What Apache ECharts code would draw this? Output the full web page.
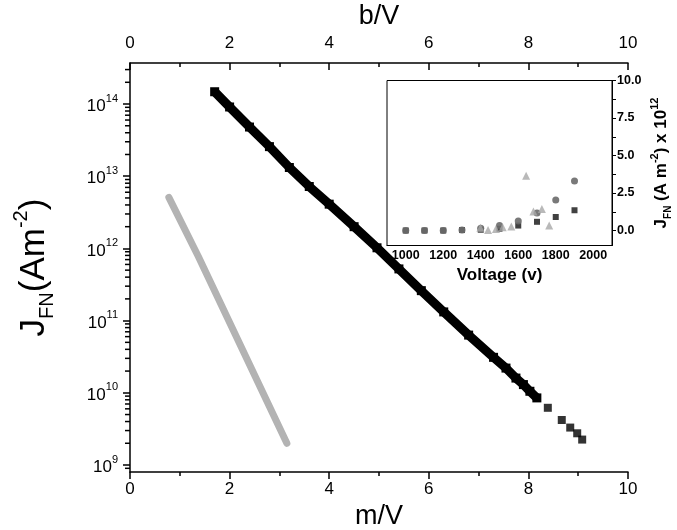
<!DOCTYPE html>
<html><head><meta charset="utf-8">
<script src="https://cdn.jsdelivr.net/npm/echarts@6/dist/echarts.min.js"></script>
<style>html,body{margin:0;padding:0;background:#fff}#c{width:677px;height:530px}</style>
</head><body><div id="c"></div>
<script>
// ---- main plot data ----
const blackBandM = [1.70, 2.00, 2.40, 2.80, 3.20, 3.60, 4.00, 4.50, 4.96, 5.40, 5.85, 6.30, 6.80, 7.30, 7.55, 7.75, 7.90, 8.03, 8.17];
const blackBandJ = [1.48e14, 9.1e13, 4.8e13, 2.57e13, 1.32e13, 7.2e12, 4.1e12, 2.0e12, 1.02e12, 5.2e11, 2.6e11, 1.32e11, 6.3e10, 3.1e10, 2.2e10, 1.6e10, 1.3e10, 1.05e10, 8.5e9];
const blackTailM = [8.39, 8.67, 8.84, 8.98, 9.08];
const blackTailJ = [6.2e9, 4.2e9, 3.3e9, 2.75e9, 2.25e9];
const grayM = [0.78, 1.37, 3.15];
const grayJ = [5.1e12, 7.8e11, 2.0e9];
const logMinorTicks = [9e8,
  2e9,3e9,4e9,5e9,6e9,7e9,8e9,9e9,
  2e10,3e10,4e10,5e10,6e10,7e10,8e10,9e10,
  2e11,3e11,4e11,5e11,6e11,7e11,8e11,9e11,
  2e12,3e12,4e12,5e12,6e12,7e12,8e12,9e12,
  2e13,3e13,4e13,5e13,6e13,7e13,8e13,9e13,
  2e14,3e14];
// ---- inset data ----
const voltage = [1000, 1100, 1200, 1300, 1400, 1500, 1600, 1700, 1800, 1900];
const squareJ = [0, 0, 0, 0.03, 0.05, 0.12, 0.33, 0.58, 0.90, 1.35];
const circleJ = [0, 0, 0, 0.03, 0.15, 0.33, 0.64, 1.17, 2.04, 3.30];
const triV = [1398, 1439, 1481, 1517, 1563, 1642, 1681, 1726, 1765];
const triJ = [0.18, 0.04, 0.10, 0.22, 0.27, 3.65, 1.26, 1.44, 0.33];
const insetXLabels = [1000, 1200, 1400, 1600, 1800, 2000];
const insetYLabels = [0, 2.5, 5, 7.5, 10];
const insetYTicks = [0, 1.25, 2.5, 3.75, 5, 6.25, 7.5, 8.75, 10];

const FONT = "'Liberation Sans', Arial, sans-serif";
const zip = (a, b) => a.map((v, i) => [v, b[i]]);

const chart = echarts.init(document.getElementById('c'), null, {renderer: 'canvas'});
chart.setOption({
  animation: false,
  textStyle: {fontFamily: FONT, color: '#000'},
  grid: [
    {left: 130, right: 49, top: 63, bottom: 58, containLabel: false, outerBoundsMode: 'none'},
    {left: 387, top: 80.5, width: 225, height: 165, show: true, borderColor: '#000', borderWidth: 1, backgroundColor: '#fff', z: 5, containLabel: false, outerBoundsMode: 'none'}
  ],
  xAxis: [
    {gridIndex: 0, type: 'value', position: 'bottom', min: 0, max: 10, interval: 2,
     axisLine: {show: true, onZero: false, lineStyle: {color: '#000', width: 1.5}},
     axisTick: {show: true, inside: false, length: 7, lineStyle: {color: '#000', width: 1.5}},
     minorTick: {show: true, splitNumber: 2, length: 4, lineStyle: {color: '#000', width: 1.5}},
     axisLabel: {fontSize: 17, color: '#000', margin: 9, fontFamily: FONT},
     splitLine: {show: false},
     name: 'm/V', nameLocation: 'middle', nameGap: 28, nameTextStyle: {fontSize: 27, color: '#000', fontFamily: FONT}},
    {gridIndex: 0, type: 'value', position: 'top', min: 0, max: 10, interval: 2,
     axisLine: {show: true, onZero: false, lineStyle: {color: '#000', width: 1.5}},
     axisTick: {show: true, inside: true, length: 7, lineStyle: {color: '#000', width: 1.5}},
     minorTick: {show: true, splitNumber: 2, length: 4, lineStyle: {color: '#000', width: 1.5}},
     axisLabel: {fontSize: 17, color: '#000', margin: 11, fontFamily: FONT},
     splitLine: {show: false},
     name: 'b/V', nameLocation: 'middle', nameGap: 25, nameTextStyle: {fontSize: 27, color: '#000', fontFamily: FONT}},
    {gridIndex: 1, type: 'value', position: 'bottom', min: 900, max: 2100,
     axisLine: {show: true, onZero: false, lineStyle: {color: '#000', width: 1}},
     axisTick: {show: false},
     axisLabel: {customValues: insetXLabels, fontSize: 12.5, fontWeight: 'bold', color: '#000', margin: 4, fontFamily: FONT,
       formatter: v => String(Math.round(v))},
     splitLine: {show: false},
     name: 'Voltage (v)', nameLocation: 'middle', nameGap: 21, nameTextStyle: {fontSize: 17, fontWeight: 'bold', color: '#000', fontFamily: FONT}}
  ],
  yAxis: [
    {gridIndex: 0, type: 'log', logBase: 10, min: 8e8, max: 3.7e14,
     axisLine: {show: true, onZero: false, lineStyle: {color: '#000', width: 1.5}},
     axisTick: {show: true, inside: false, length: 7, lineStyle: {color: '#000', width: 1.5}},
     axisLabel: {color: '#000', margin: 12, showMinLabel: false, showMaxLabel: false,
       formatter: function (v) {
         const e = Math.log10(v);
         if (Math.abs(e - Math.round(e)) > 1e-6) return '';
         return '{b|10}{s|' + Math.round(e) + '}';
       },
       rich: {b: {fontSize: 17, fontFamily: FONT, color: '#000', verticalAlign: 'bottom', lineHeight: 22},
              s: {fontSize: 11, fontFamily: FONT, color: '#000', verticalAlign: 'top', lineHeight: 22}}},
     splitLine: {show: false},
     name: '{j|J}{sub|FN}{j|(Am}{sup|-2}{j|)}', nameLocation: 'middle', nameGap: 73, nameRotate: 90,
     nameTextStyle: {rich: {
       j: {fontSize: 35, fontFamily: FONT, color: '#000', verticalAlign: 'middle', lineHeight: 46},
       sub: {fontSize: 20, fontFamily: FONT, color: '#000', verticalAlign: 'bottom', lineHeight: 46},
       sup: {fontSize: 20, fontFamily: FONT, color: '#000', verticalAlign: 'top', lineHeight: 46}}}},
    {gridIndex: 1, type: 'value', position: 'right', min: -1, max: 10,
     axisLine: {show: true, onZero: false, lineStyle: {color: '#000', width: 1}},
     axisTick: {show: true, inside: false, length: 4, customValues: insetYTicks, lineStyle: {color: '#000', width: 1}},
     axisLabel: {customValues: insetYLabels, fontSize: 12.5, fontWeight: 'bold', color: '#000', margin: 5, fontFamily: FONT,
       formatter: v => Number(v).toFixed(1)},
     splitLine: {show: false},
     name: '{j|J}{sub|FN}{j| (A m}{sup|-2}{j|) x 10}{sup|12}', nameLocation: 'middle', nameGap: 37, nameRotate: 90,
     nameTextStyle: {rich: {
       j: {fontSize: 17, fontWeight: 'bold', fontFamily: FONT, color: '#000', verticalAlign: 'middle', lineHeight: 24},
       sub: {fontSize: 10, fontWeight: 'bold', fontFamily: FONT, color: '#000', verticalAlign: 'bottom', lineHeight: 24},
       sup: {fontSize: 11, fontWeight: 'bold', fontFamily: FONT, color: '#000', verticalAlign: 'top', lineHeight: 24}}}}
  ],
  series: [
    {type: 'custom', xAxisIndex: 0, yAxisIndex: 0, silent: true, clip: false, z: 10,
     data: logMinorTicks.map(v => [0, v]), encode: {x: 0, y: 1},
     renderItem: function (params, api) {
       const p = api.coord([api.value(0), api.value(1)]);
       return {type: 'line', shape: {x1: p[0] - 5, y1: p[1], x2: p[0], y2: p[1]},
               style: {stroke: '#000', lineWidth: 1.5}};
     }},
    {type: 'line', xAxisIndex: 0, yAxisIndex: 0, data: zip(grayM, grayJ), showSymbol: false,
     lineStyle: {color: '#b3b3b3', width: 7, cap: 'round'}},
    {type: 'line', xAxisIndex: 0, yAxisIndex: 0, data: zip(blackBandM, blackBandJ), symbol: 'rect', symbolSize: 9, showSymbol: true,
     itemStyle: {color: '#000'}, lineStyle: {color: '#000', width: 9}},
    {type: 'scatter', xAxisIndex: 0, yAxisIndex: 0, data: zip(blackTailM, blackTailJ), symbol: 'rect', symbolSize: 8,
     itemStyle: {color: '#000'}},
    {type: 'scatter', xAxisIndex: 2, yAxisIndex: 1, data: zip(voltage, squareJ), symbol: 'rect', symbolSize: 6, z: 6,
     itemStyle: {color: '#111'}},
    {type: 'scatter', xAxisIndex: 2, yAxisIndex: 1, data: zip(voltage, circleJ), symbol: 'circle', symbolSize: 7, z: 6,
     itemStyle: {color: '#6a6a6a', opacity: 0.9}},
    {type: 'scatter', xAxisIndex: 2, yAxisIndex: 1, data: zip(triV, triJ), symbol: 'triangle', symbolSize: 8, z: 6,
     itemStyle: {color: '#a8a8a8'}}
  ]
});
</script></body></html>
